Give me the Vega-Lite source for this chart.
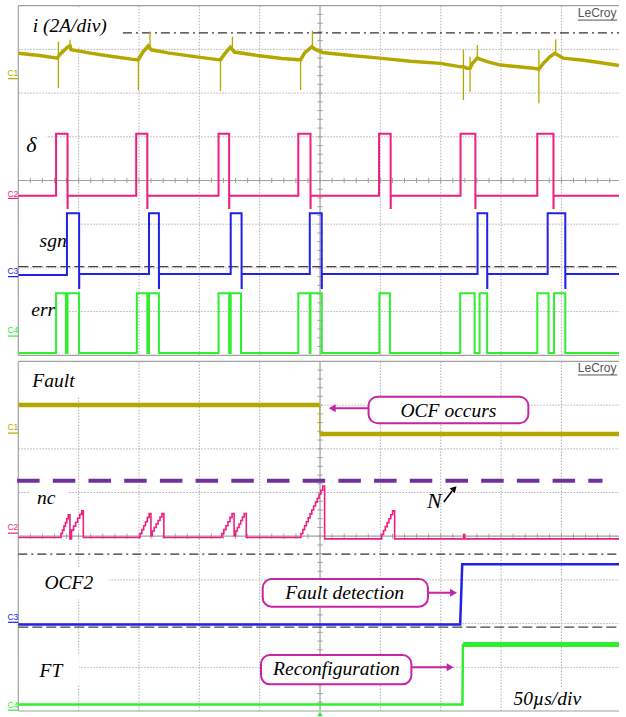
{
  "$schema": "https://vega.github.io/schema/vega-lite/v6.json",
  "width": 626,
  "height": 717,
  "autosize": {"type": "fit", "contains": "padding"},
  "padding": 0,
  "background": "white",
  "config": {"view": {"stroke": null}, "axis": {"disable": true}},
  "datasets": {
    "vgrid": [
      {"t":50,"v":8.14,"v2":16.14},{"t":100,"v":8.14,"v2":16.14},{"t":150,"v":8.14,"v2":16.14},{"t":200,"v":8.14,"v2":16.14},
      {"t":300,"v":8.14,"v2":16.14},{"t":350,"v":8.14,"v2":16.14},{"t":400,"v":8.14,"v2":16.14},{"t":450,"v":8.14,"v2":16.14},
      {"t":50,"v":0,"v2":8},{"t":100,"v":0,"v2":8},{"t":150,"v":0,"v2":8},{"t":200,"v":0,"v2":8},
      {"t":300,"v":0,"v2":8},{"t":350,"v":0,"v2":8},{"t":400,"v":0,"v2":8},{"t":450,"v":0,"v2":8}
    ],
    "hgrid": [
      {"t":0,"t2":497.7,"v":9.14},{"t":0,"t2":497.7,"v":10.14},{"t":0,"t2":497.7,"v":11.14},
      {"t":0,"t2":497.7,"v":13.14},{"t":0,"t2":497.7,"v":14.14},{"t":0,"t2":497.7,"v":15.14},
      {"t":0,"t2":497.7,"v":1},{"t":0,"t2":497.7,"v":2},{"t":0,"t2":497.7,"v":3},
      {"t":0,"t2":497.7,"v":5},{"t":0,"t2":497.7,"v":6},{"t":0,"t2":497.7,"v":7}
    ],
    "frame": [
      {"t":0,"t2":497.7,"v":16.14,"v2":16.14},{"t":0,"t2":497.7,"v":8.14,"v2":8.14},{"t":0,"t2":0,"v":8.14,"v2":16.14},
      {"t":0,"t2":497.7,"v":8,"v2":8},{"t":0,"t2":497.7,"v":0,"v2":0},{"t":0,"t2":0,"v":0,"v2":8},
      {"t":0,"t2":497.7,"v":12.14,"v2":12.14},{"t":0,"t2":497.7,"v":4,"v2":4},
      {"t":250,"t2":250,"v":8.14,"v2":16.14},{"t":250,"t2":250,"v":0,"v2":8}
    ],
    "hticks": [
      {"t":10},{"t":20},{"t":30},{"t":40},{"t":50},{"t":60},{"t":70},{"t":80},{"t":90},{"t":100},
      {"t":110},{"t":120},{"t":130},{"t":140},{"t":150},{"t":160},{"t":170},{"t":180},{"t":190},{"t":200},
      {"t":210},{"t":220},{"t":230},{"t":240},{"t":250},{"t":260},{"t":270},{"t":280},{"t":290},{"t":300},
      {"t":310},{"t":320},{"t":330},{"t":340},{"t":350},{"t":360},{"t":370},{"t":380},{"t":390},{"t":400},
      {"t":410},{"t":420},{"t":430},{"t":440},{"t":450},{"t":460},{"t":470},{"t":480},{"t":490}
    ],
    "vticksTop": [
      {"v":8.34},{"v":8.54},{"v":8.74},{"v":8.94},{"v":9.14},{"v":9.34},{"v":9.54},{"v":9.74},{"v":9.94},{"v":10.14},
      {"v":10.34},{"v":10.54},{"v":10.74},{"v":10.94},{"v":11.14},{"v":11.34},{"v":11.54},{"v":11.74},{"v":11.94},{"v":12.14},
      {"v":12.34},{"v":12.54},{"v":12.74},{"v":12.94},{"v":13.14},{"v":13.34},{"v":13.54},{"v":13.74},{"v":13.94},{"v":14.14},
      {"v":14.34},{"v":14.54},{"v":14.74},{"v":14.94},{"v":15.14},{"v":15.34},{"v":15.54},{"v":15.74},{"v":15.94}
    ],
    "vticksBot": [
      {"v":0.2},{"v":0.4},{"v":0.6},{"v":0.8},{"v":1.0},{"v":1.2},{"v":1.4},{"v":1.6},{"v":1.8},{"v":2.0},
      {"v":2.2},{"v":2.4},{"v":2.6},{"v":2.8},{"v":3.0},{"v":3.2},{"v":3.4},{"v":3.6},{"v":3.8},{"v":4.0},
      {"v":4.2},{"v":4.4},{"v":4.6},{"v":4.8},{"v":5.0},{"v":5.2},{"v":5.4},{"v":5.6},{"v":5.8},{"v":6.0},
      {"v":6.2},{"v":6.4},{"v":6.6},{"v":6.8},{"v":7.0},{"v":7.2},{"v":7.4},{"v":7.6},{"v":7.8}
    ],
    "labelBoxes": [
      {"t":0.5,"t2":86.7,"v":15.22,"v2":16.1},{"t":0.5,"t2":23.3,"v":12.38,"v2":13.64},
      {"t":0.5,"t2":50.4,"v":10.35,"v2":11.19},{"t":0.5,"t2":42.2,"v":8.72,"v2":9.41},
      {"t":0.5,"t2":58.6,"v":7.2,"v2":7.98},{"t":9.4,"t2":40.6,"v":4.56,"v2":5.1},
      {"t":0.5,"t2":75.0,"v":2.55,"v2":3.27},{"t":0.5,"t2":50.4,"v":0.6,"v2":1.28},
      {"t":402.9,"t2":476.5,"v":0.03,"v2":0.53}
    ],
    "dashdot": [{"t":86.7,"t2":497.7,"v":15.52},{"t":0,"t2":497.7,"v":3.59}],
    "dashed": [{"t":0,"t2":497.7,"v":10.17},{"t":0,"t2":497.7,"v":1.92}],
    "nLine": [{"t":-1.0,"t2":484.0,"v":5.27}],
    "iTrace": [
      {"t":0,"v":15.05},{"t":17.6,"v":15.0},{"t":32.4,"v":14.94},{"t":34.0,"v":15.01},{"t":37.3,"v":15.10},{"t":40.8,"v":15.19},
      {"t":42.8,"v":15.22},{"t":43.8,"v":15.13},{"t":58.6,"v":15.06},{"t":75.0,"v":14.99},{"t":98.2,"v":14.9},{"t":99.5,"v":14.9},
      {"t":102.8,"v":15.06},{"t":107.7,"v":15.22},{"t":110.2,"v":15.13},{"t":124.1,"v":15.06},{"t":144.6,"v":14.98},{"t":166.7,"v":14.9},
      {"t":167.5,"v":14.9},{"t":170.8,"v":15.03},{"t":175.7,"v":15.19},{"t":179.0,"v":15.08},{"t":197.9,"v":15.0},{"t":218.3,"v":14.93},
      {"t":233.1,"v":14.9},{"t":233.9,"v":14.9},{"t":237.2,"v":15.06},{"t":243.2,"v":15.2},{"t":245.4,"v":15.15},{"t":251.9,"v":15.07},
      {"t":275.7,"v":15.0},{"t":299.5,"v":14.94},{"t":324.9,"v":14.87},{"t":349.7,"v":14.82},{"t":366.6,"v":14.74},{"t":368.8,"v":14.74},
      {"t":371.5,"v":14.71},{"t":374.3,"v":14.71},{"t":376.5,"v":14.83},{"t":380.3,"v":14.94},{"t":383.0,"v":14.91},{"t":388.5,"v":14.86},
      {"t":399.4,"v":14.78},{"t":426.7,"v":14.71},{"t":431.3,"v":14.69},{"t":435.4,"v":14.83},{"t":440.4,"v":14.97},{"t":444.5,"v":15.05},
      {"t":446.9,"v":15.01},{"t":451.3,"v":14.94},{"t":468.3,"v":14.89},{"t":481.4,"v":14.84},{"t":497.7,"v":14.77}
    ],
    "iSpikes": [
      {"t":33.2,"v":15.32,"v2":14.26},{"t":42.8,"v":15.36,"v2":15.17},{"t":99.5,"v":14.99,"v2":14.21},{"t":109.1,"v":15.55,"v2":15.17},
      {"t":167.5,"v":14.97,"v2":14.19},{"t":177.4,"v":15.43,"v2":15.17},{"t":233.9,"v":14.97,"v2":14.21},{"t":243.7,"v":15.57,"v2":15.17},
      {"t":368.8,"v":15.13,"v2":13.98},{"t":374.3,"v":14.97,"v2":14.17},{"t":380.3,"v":15.24,"v2":14.92},{"t":431.3,"v":15.13,"v2":13.91},
      {"t":445.3,"v":15.37,"v2":15.03}
    ],
    "delta": [
      {"t":0,"v":11.79},{"t":31.3,"v":13.21},{"t":40.8,"v":11.51},{"t":40.9,"v":11.79},
      {"t":97.7,"v":13.21},{"t":106.9,"v":11.51},{"t":107.0,"v":11.79},
      {"t":165.9,"v":13.21},{"t":174.7,"v":11.51},{"t":174.8,"v":11.79},
      {"t":232.0,"v":13.21},{"t":242.1,"v":11.51},{"t":242.2,"v":11.79},
      {"t":298.9,"v":13.21},{"t":308.5,"v":11.51},{"t":308.6,"v":11.79},
      {"t":366.4,"v":13.21},{"t":378.7,"v":11.51},{"t":378.8,"v":11.79},
      {"t":430.0,"v":13.21},{"t":443.4,"v":11.51},{"t":443.5,"v":11.79},
      {"t":497.7,"v":11.79}
    ],
    "sgn": [
      {"t":0,"v":9.98},{"t":40.3,"v":11.39},{"t":50.4,"v":9.68},{"t":50.5,"v":10.0},
      {"t":108.3,"v":11.39},{"t":116.5,"v":9.68},{"t":116.6,"v":10.0},
      {"t":176.0,"v":11.39},{"t":185.0,"v":9.68},{"t":185.1,"v":10.0},
      {"t":241.5,"v":11.39},{"t":251.4,"v":9.68},{"t":251.5,"v":10.0},
      {"t":380.5,"v":11.39},{"t":388.5,"v":9.68},{"t":388.6,"v":10.0},
      {"t":438.6,"v":11.39},{"t":453.2,"v":9.68},{"t":453.3,"v":10.0},
      {"t":497.7,"v":10.0}
    ],
    "err": [
      {"t":0,"v":8.19},{"t":31.3,"v":9.56},{"t":39.5,"v":8.19},{"t":40.8,"v":9.56},{"t":50.4,"v":8.19},
      {"t":98.2,"v":9.56},{"t":106.9,"v":8.19},{"t":108.3,"v":9.56},{"t":116.5,"v":8.19},
      {"t":165.9,"v":9.56},{"t":174.7,"v":8.19},{"t":176.0,"v":9.56},{"t":184.5,"v":8.19},
      {"t":232.0,"v":9.56},{"t":241.5,"v":8.19},{"t":242.1,"v":9.56},{"t":251.4,"v":8.19},
      {"t":299.2,"v":9.56},{"t":307.9,"v":8.19},
      {"t":366.1,"v":9.56},{"t":378.1,"v":8.19},{"t":382.2,"v":9.56},{"t":388.5,"v":8.19},
      {"t":430.0,"v":9.56},{"t":439.3,"v":8.19},{"t":443.9,"v":9.56},{"t":453.2,"v":8.19},
      {"t":497.7,"v":8.19}
    ],
    "nc": [
      {"t":0,"v":3.97},
      {"t":35.4,"v":4.06},{"t":36.6,"v":4.14},{"t":37.8,"v":4.23},{"t":39.0,"v":4.31},{"t":40.2,"v":4.40},{"t":41.4,"v":4.49},{"t":42.8,"v":3.94},
      {"t":44.1,"v":4.14},{"t":45.8,"v":4.23},{"t":47.5,"v":4.32},{"t":49.2,"v":4.41},{"t":50.9,"v":4.50},{"t":52.6,"v":4.58},{"t":53.9,"v":3.97},
      {"t":100.9,"v":4.06},{"t":102.4,"v":4.15},{"t":103.9,"v":4.24},{"t":105.4,"v":4.33},{"t":106.9,"v":4.43},{"t":108.4,"v":4.52},{"t":109.9,"v":4.01},
      {"t":111.0,"v":4.12},{"t":112.6,"v":4.20},{"t":114.2,"v":4.28},{"t":115.8,"v":4.36},{"t":117.4,"v":4.44},{"t":119.0,"v":4.52},{"t":120.6,"v":3.97},
      {"t":168.6,"v":4.06},{"t":170.3,"v":4.15},{"t":172.0,"v":4.24},{"t":173.7,"v":4.33},{"t":175.4,"v":4.43},{"t":177.1,"v":4.52},{"t":178.8,"v":4.01},
      {"t":180.1,"v":4.12},{"t":181.5,"v":4.20},{"t":182.9,"v":4.28},{"t":184.3,"v":4.36},{"t":185.7,"v":4.44},{"t":187.1,"v":4.52},{"t":188.9,"v":3.97},
      {"t":234.2,"v":4.06},{"t":235.7,"v":4.15},{"t":237.2,"v":4.24},{"t":238.7,"v":4.33},{"t":240.2,"v":4.42},{"t":241.7,"v":4.51},{"t":243.2,"v":4.60},
      {"t":244.7,"v":4.69},{"t":246.2,"v":4.78},{"t":247.7,"v":4.87},{"t":249.2,"v":4.96},{"t":250.7,"v":5.05},{"t":252.2,"v":5.15},{"t":253.8,"v":3.94},
      {"t":301.1,"v":4.04},{"t":302.6,"v":4.13},{"t":304.1,"v":4.22},{"t":305.6,"v":4.31},{"t":307.1,"v":4.40},{"t":308.6,"v":4.49},{"t":310.1,"v":4.58},{"t":311.8,"v":3.94},
      {"t":369.0,"v":4.04},{"t":369.8,"v":3.94},
      {"t":497.7,"v":3.94}
    ],
    "faultLevels": [{"t":0,"t2":249.8,"v":7.0},{"t":249.8,"t2":497.7,"v":6.34}],
    "faultStep": [{"t":249.8,"v":6.34,"v2":7.0}],
    "ocf2": [{"t":0,"v":1.98},{"t":366.1,"v":1.98},{"t":367.8,"v":3.36},{"t":497.7,"v":3.36}],
    "ft": [{"t":0,"v":0.15},{"t":368.0,"v":0.15},{"t":368.4,"v":1.51},{"t":497.7,"v":1.51}],
    "ftHigh": [{"t":368.6,"t2":497.7,"v":1.52}],
    "chMarks": [
      {"t":-4.5,"v":14.53,"ch":"C1"},{"t":-4.5,"v":11.77,"ch":"C2"},{"t":-4.5,"v":10.0,"ch":"C3"},{"t":-4.5,"v":8.64,"ch":"C4"},
      {"t":-4.5,"v":6.43,"ch":"C1"},{"t":-4.5,"v":4.14,"ch":"C2"},{"t":-4.5,"v":2.08,"ch":"C3"},{"t":-4.5,"v":0.07,"ch":"C4"}
    ],
    "chLines": [
      {"t":-8.6,"t2":0,"v":14.47,"ch":"C1"},{"t":-8.6,"t2":0,"v":11.73,"ch":"C2"},{"t":-8.6,"t2":0,"v":9.94,"ch":"C3"},{"t":-8.6,"t2":0,"v":8.58,"ch":"C4"},
      {"t":-8.6,"t2":0,"v":6.36,"ch":"C1"},{"t":-8.6,"t2":0,"v":4.07,"ch":"C2"},{"t":-8.6,"t2":0,"v":2.03,"ch":"C3"},{"t":-8.6,"t2":0,"v":0.02,"ch":"C4"}
    ],
    "annBoxes": [
      {"t":290.2,"t2":422.6,"v":6.584,"v2":7.192},
      {"t":202.5,"t2":339.4,"v":2.387,"v2":3.021},
      {"t":201.1,"t2":325.7,"v":0.611,"v2":1.282}
    ],
    "annShafts": [
      {"t":260.1,"t2":290.2,"v":6.927},
      {"t":339.4,"t2":360.6,"v":2.707},
      {"t":325.7,"t2":357.8,"v":1.0}
    ],
    "headsLeft": [{"t":260.1,"v":6.927}],
    "headsRight": [{"t":360.6,"v":2.707},{"t":357.8,"v":1.0}],
    "nShaft": [{"t":352.6,"v":4.783,"t2":359.4,"v2":5.034}],
    "nHead": [{"t":361.3,"v":5.092}],
    "labelsLeft": [
      {"t":11.9,"v":15.545,"label":"i (2A/div)"},{"t":17.6,"v":10.625,"label":"sgn"},
      {"t":10.8,"v":9.039,"label":"err"},{"t":11.6,"v":7.407,"label":"Fault"},{"t":15.4,"v":4.737,"label":"nc"},
      {"t":21.7,"v":2.785,"label":"OCF2"},{"t":17.6,"v":0.785,"label":"FT"},
      {"t":410.3,"v":0.137,"label":"50µs/div"}
    ],
    "labelsBig": [
      {"t":6.6,"v":12.785,"label":"δ"},{"t":338.6,"v":4.638,"label":"N"}
    ],
    "labelsCenter": [
      {"t":356.4,"v":6.735,"label":"OCF occurs"},
      {"t":270.4,"v":2.563,"label":"Fault detection"},
      {"t":263.6,"v":0.824,"label":"Reconfiguration"}
    ],
    "lecroy": [{"t":463.6,"v":15.874,"label":"LeCroy"},{"t":463.6,"v":7.751,"label":"LeCroy"}],
    "lecroyLine": [{"t":463.6,"t2":496.3,"v":15.81},{"t":463.6,"t2":496.3,"v":7.69}],
    "trig": [{"t":250,"v":-0.068}]
  },
  "layer": [
    {
      "data": {"name": "vgrid"},
      "mark": {"type": "rule", "color": "#b0b0b0", "strokeWidth": 1, "strokeDash": [1.5, 1.5]},
      "encoding": {
        "x": {"field": "t", "type": "quantitative", "scale": {"domain": [-15.16, 497.7], "nice": false, "zero": false}, "axis": null},
        "y": {"field": "v", "type": "quantitative", "scale": {"domain": [-0.137, 16.27], "nice": false, "zero": false}, "axis": null},
        "y2": {"field": "v2"}
      }
    },
    {
      "data": {"name": "hgrid"},
      "mark": {"type": "rule", "color": "#b0b0b0", "strokeWidth": 1, "strokeDash": [1.5, 1.5]},
      "encoding": {
        "x": {"field": "t", "type": "quantitative"}, "x2": {"field": "t2"},
        "y": {"field": "v", "type": "quantitative"}
      }
    },
    {
      "data": {"name": "frame"},
      "mark": {"type": "rule", "color": "#a0a0a0", "strokeWidth": 1.2},
      "encoding": {
        "x": {"field": "t", "type": "quantitative"}, "x2": {"field": "t2"},
        "y": {"field": "v", "type": "quantitative"}, "y2": {"field": "v2"}
      }
    },
    {
      "data": {"name": "hticks"},
      "mark": {"type": "rule", "color": "#a0a0a0", "strokeWidth": 1},
      "encoding": {
        "x": {"field": "t", "type": "quantitative"},
        "y": {"datum": 12.08, "type": "quantitative"}, "y2": {"datum": 12.2}
      }
    },
    {
      "data": {"name": "hticks"},
      "mark": {"type": "rule", "color": "#a0a0a0", "strokeWidth": 1},
      "encoding": {
        "x": {"field": "t", "type": "quantitative"},
        "y": {"datum": 3.94, "type": "quantitative"}, "y2": {"datum": 4.06}
      }
    },
    {
      "data": {"name": "vticksTop"},
      "mark": {"type": "rule", "color": "#a0a0a0", "strokeWidth": 1},
      "encoding": {
        "y": {"field": "v", "type": "quantitative"},
        "x": {"datum": 247.8, "type": "quantitative"}, "x2": {"datum": 252.2}
      }
    },
    {
      "data": {"name": "vticksBot"},
      "mark": {"type": "rule", "color": "#a0a0a0", "strokeWidth": 1},
      "encoding": {
        "y": {"field": "v", "type": "quantitative"},
        "x": {"datum": 247.8, "type": "quantitative"}, "x2": {"datum": 252.2}
      }
    },
    {
      "data": {"name": "labelBoxes"},
      "mark": {"type": "rect", "fill": "white", "strokeWidth": 0},
      "encoding": {
        "x": {"field": "t", "type": "quantitative"}, "x2": {"field": "t2"},
        "y": {"field": "v", "type": "quantitative"}, "y2": {"field": "v2"}
      }
    },
    {
      "data": {"name": "dashdot"},
      "mark": {"type": "rule", "color": "#333333", "strokeWidth": 1.2, "strokeDash": [9, 4, 2, 4]},
      "encoding": {
        "x": {"field": "t", "type": "quantitative"}, "x2": {"field": "t2"},
        "y": {"field": "v", "type": "quantitative"}
      }
    },
    {
      "data": {"name": "dashed"},
      "mark": {"type": "rule", "color": "#444444", "strokeWidth": 1.2, "strokeDash": [10, 4]},
      "encoding": {
        "x": {"field": "t", "type": "quantitative"}, "x2": {"field": "t2"},
        "y": {"field": "v", "type": "quantitative"}
      }
    },
    {
      "data": {"name": "nLine"},
      "mark": {"type": "rule", "color": "#7030A0", "strokeWidth": 4, "strokeDash": [22.5, 13.2]},
      "encoding": {
        "x": {"field": "t", "type": "quantitative"}, "x2": {"field": "t2"},
        "y": {"field": "v", "type": "quantitative"}
      }
    },
    {
      "data": {"name": "iTrace"},
      "mark": {"type": "line", "color": "#B4A800", "strokeWidth": 3.5},
      "encoding": {"x": {"field": "t", "type": "quantitative"}, "y": {"field": "v", "type": "quantitative"}}
    },
    {
      "data": {"name": "iSpikes"},
      "mark": {"type": "rule", "color": "#B4A800", "strokeWidth": 1.3},
      "encoding": {"x": {"field": "t", "type": "quantitative"}, "y": {"field": "v", "type": "quantitative"}, "y2": {"field": "v2"}}
    },
    {
      "data": {"name": "delta"},
      "mark": {"type": "line", "color": "#EE1E82", "strokeWidth": 2, "interpolate": "step-after"},
      "encoding": {"x": {"field": "t", "type": "quantitative"}, "y": {"field": "v", "type": "quantitative"}}
    },
    {
      "data": {"name": "sgn"},
      "mark": {"type": "line", "color": "#2222E6", "strokeWidth": 2, "interpolate": "step-after"},
      "encoding": {"x": {"field": "t", "type": "quantitative"}, "y": {"field": "v", "type": "quantitative"}}
    },
    {
      "data": {"name": "err"},
      "mark": {"type": "line", "color": "#2EEE2E", "strokeWidth": 2, "interpolate": "step-after"},
      "encoding": {"x": {"field": "t", "type": "quantitative"}, "y": {"field": "v", "type": "quantitative"}}
    },
    {
      "data": {"name": "nc"},
      "mark": {"type": "line", "color": "#EE1E82", "strokeWidth": 1.6, "interpolate": "step-after"},
      "encoding": {"x": {"field": "t", "type": "quantitative"}, "y": {"field": "v", "type": "quantitative"}}
    },
    {
      "data": {"name": "faultLevels"},
      "mark": {"type": "rule", "color": "#B4A800", "strokeWidth": 4.5},
      "encoding": {"x": {"field": "t", "type": "quantitative"}, "x2": {"field": "t2"}, "y": {"field": "v", "type": "quantitative"}}
    },
    {
      "data": {"name": "faultStep"},
      "mark": {"type": "rule", "color": "#B4A800", "strokeWidth": 1},
      "encoding": {"x": {"field": "t", "type": "quantitative"}, "y": {"field": "v", "type": "quantitative"}, "y2": {"field": "v2"}}
    },
    {
      "data": {"name": "ocf2"},
      "mark": {"type": "line", "color": "#2222E6", "strokeWidth": 2.5},
      "encoding": {"x": {"field": "t", "type": "quantitative"}, "y": {"field": "v", "type": "quantitative"}}
    },
    {
      "data": {"name": "ft"},
      "mark": {"type": "line", "color": "#2EEE2E", "strokeWidth": 2.5},
      "encoding": {"x": {"field": "t", "type": "quantitative"}, "y": {"field": "v", "type": "quantitative"}}
    },
    {
      "data": {"name": "ftHigh"},
      "mark": {"type": "rule", "color": "#2EEE2E", "strokeWidth": 5},
      "encoding": {"x": {"field": "t", "type": "quantitative"}, "x2": {"field": "t2"}, "y": {"field": "v", "type": "quantitative"}}
    },
    {
      "data": {"name": "chLines"},
      "mark": {"type": "rule", "strokeWidth": 1.2},
      "encoding": {
        "x": {"field": "t", "type": "quantitative"}, "x2": {"field": "t2"},
        "y": {"field": "v", "type": "quantitative"},
        "color": {"field": "ch", "type": "nominal", "scale": {"domain": ["C1", "C2", "C3", "C4"], "range": ["#B4A800", "#EE1E82", "#2222E6", "#2EEE2E"]}, "legend": null}
      }
    },
    {
      "data": {"name": "chMarks"},
      "mark": {"type": "text", "font": "Liberation Sans", "fontSize": 8.5, "align": "center", "baseline": "alphabetic"},
      "encoding": {
        "x": {"field": "t", "type": "quantitative"},
        "y": {"field": "v", "type": "quantitative"},
        "text": {"field": "ch"},
        "color": {"field": "ch", "type": "nominal", "legend": null}
      }
    },
    {
      "data": {"name": "annBoxes"},
      "mark": {"type": "rect", "fill": "white", "stroke": "#C723A5", "strokeWidth": 2, "cornerRadius": 9},
      "encoding": {
        "x": {"field": "t", "type": "quantitative"}, "x2": {"field": "t2"},
        "y": {"field": "v", "type": "quantitative"}, "y2": {"field": "v2"}
      }
    },
    {
      "data": {"name": "annShafts"},
      "mark": {"type": "rule", "color": "#C723A5", "strokeWidth": 2},
      "encoding": {"x": {"field": "t", "type": "quantitative"}, "x2": {"field": "t2"}, "y": {"field": "v", "type": "quantitative"}}
    },
    {
      "data": {"name": "headsLeft"},
      "mark": {"type": "point", "shape": "triangle-left", "filled": true, "size": 64, "color": "#C723A5", "opacity": 1},
      "encoding": {"x": {"field": "t", "type": "quantitative"}, "y": {"field": "v", "type": "quantitative"}}
    },
    {
      "data": {"name": "headsRight"},
      "mark": {"type": "point", "shape": "triangle-right", "filled": true, "size": 64, "color": "#C723A5", "opacity": 1},
      "encoding": {"x": {"field": "t", "type": "quantitative"}, "y": {"field": "v", "type": "quantitative"}}
    },
    {
      "data": {"name": "nShaft"},
      "mark": {"type": "rule", "color": "black", "strokeWidth": 1.6},
      "encoding": {
        "x": {"field": "t", "type": "quantitative"}, "x2": {"field": "t2"},
        "y": {"field": "v", "type": "quantitative"}, "y2": {"field": "v2"}
      }
    },
    {
      "data": {"name": "nHead"},
      "mark": {"type": "point", "shape": "triangle-up", "angle": 45, "filled": true, "size": 50, "color": "black", "opacity": 1},
      "encoding": {"x": {"field": "t", "type": "quantitative"}, "y": {"field": "v", "type": "quantitative"}}
    },
    {
      "data": {"name": "labelsLeft"},
      "mark": {"type": "text", "font": "Liberation Serif", "fontStyle": "italic", "fontSize": 19.5, "align": "left", "baseline": "alphabetic", "color": "black"},
      "encoding": {"x": {"field": "t", "type": "quantitative"}, "y": {"field": "v", "type": "quantitative"}, "text": {"field": "label"}}
    },
    {
      "data": {"name": "labelsBig"},
      "mark": {"type": "text", "font": "Liberation Serif", "fontStyle": "italic", "fontSize": 22, "align": "left", "baseline": "alphabetic", "color": "black"},
      "encoding": {"x": {"field": "t", "type": "quantitative"}, "y": {"field": "v", "type": "quantitative"}, "text": {"field": "label"}}
    },
    {
      "data": {"name": "labelsCenter"},
      "mark": {"type": "text", "font": "Liberation Serif", "fontStyle": "italic", "fontSize": 19.5, "align": "center", "baseline": "alphabetic", "color": "black"},
      "encoding": {"x": {"field": "t", "type": "quantitative"}, "y": {"field": "v", "type": "quantitative"}, "text": {"field": "label"}}
    },
    {
      "data": {"name": "lecroy"},
      "mark": {"type": "text", "font": "Liberation Sans", "fontSize": 12, "align": "left", "baseline": "alphabetic", "color": "#555555"},
      "encoding": {"x": {"field": "t", "type": "quantitative"}, "y": {"field": "v", "type": "quantitative"}, "text": {"field": "label"}}
    },
    {
      "data": {"name": "lecroyLine"},
      "mark": {"type": "rule", "color": "#555555", "strokeWidth": 1},
      "encoding": {"x": {"field": "t", "type": "quantitative"}, "x2": {"field": "t2"}, "y": {"field": "v", "type": "quantitative"}}
    },
    {
      "data": {"name": "trig"},
      "mark": {"type": "point", "shape": "triangle-up", "filled": true, "size": 30, "color": "#2EEE2E", "opacity": 1},
      "encoding": {"x": {"field": "t", "type": "quantitative"}, "y": {"field": "v", "type": "quantitative"}}
    }
  ]
}
